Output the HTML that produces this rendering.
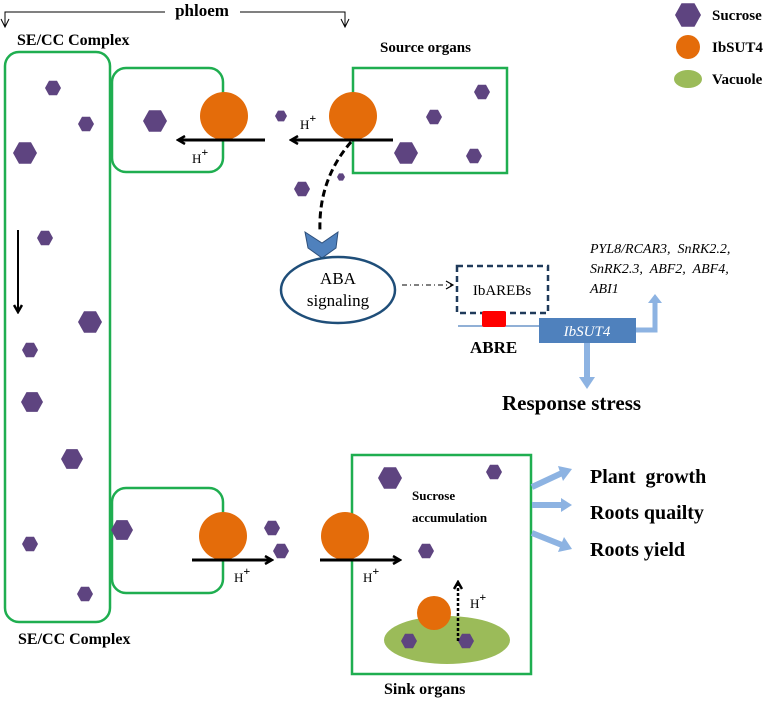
<!DOCTYPE html>
<html><head><meta charset="utf-8"><style>html,body{margin:0;padding:0;background:#fff}svg{display:block}</style></head>
<body>
<svg width="778" height="703" viewBox="0 0 778 703" xmlns="http://www.w3.org/2000/svg" font-family="Liberation Serif, serif">
<defs>
<polygon id="h" points="1,0 0.5,0.9 -0.5,0.9 -1,0 -0.5,-0.9 0.5,-0.9" fill="#5e4480"/>
<marker id="ar" markerWidth="10" markerHeight="10" refX="8" refY="5" orient="auto" markerUnits="userSpaceOnUse"><path d="M1,1 L8,5 L1,9" fill="none" stroke="#000" stroke-width="2.5"/></marker>
<marker id="ars" markerWidth="10" markerHeight="10" refX="8" refY="5" orient="auto" markerUnits="userSpaceOnUse"><path d="M1,1 L8,5 L1,9" fill="none" stroke="#000" stroke-width="1.2"/></marker>
</defs>
<path d="M5,26 V12 H165 M240,12 H345 V26" fill="none" stroke="#000" stroke-width="1"/>
<path d="M1,19 L5,27 L9,19 M341,19 L345,27 L349,19" fill="none" stroke="#000" stroke-width="1"/>
<text x="202" y="16" font-size="17" font-weight="bold" text-anchor="middle">phloem</text>
<text x="17" y="45" font-size="16" font-weight="bold">SE/CC Complex</text>
<text x="380" y="52" font-size="15" font-weight="bold">Source organs</text>
<text x="18" y="644" font-size="16" font-weight="bold">SE/CC Complex</text>
<text x="384" y="694" font-size="16" font-weight="bold">Sink organs</text>
<g fill="none" stroke="#1fae50" stroke-width="2.5">
<rect x="5" y="52" width="105" height="570" rx="14"/>
<rect x="112" y="68" width="111" height="104" rx="14"/>
<rect x="353" y="68" width="154" height="105"/>
<rect x="112" y="488" width="111" height="105" rx="14"/>
<rect x="352" y="455" width="179" height="219"/>
</g>
<use href="#h" transform="translate(688,15) scale(13)"/>
<circle cx="688" cy="47" r="12" fill="#e46c0a"/>
<ellipse cx="688" cy="79" rx="14" ry="9" fill="#9bbb59"/>
<g font-size="15" font-weight="bold"><text x="712" y="20">Sucrose</text><text x="712" y="52">IbSUT4</text><text x="712" y="84">Vacuole</text></g>
<g>
<use href="#h" transform="translate(53,88) scale(8)"/>
<use href="#h" transform="translate(86,124) scale(8)"/>
<use href="#h" transform="translate(25,153) scale(12)"/>
<use href="#h" transform="translate(45,238) scale(8)"/>
<use href="#h" transform="translate(90,322) scale(12)"/>
<use href="#h" transform="translate(30,350) scale(8)"/>
<use href="#h" transform="translate(32,402) scale(11)"/>
<use href="#h" transform="translate(72,459) scale(11)"/>
<use href="#h" transform="translate(30,544) scale(8)"/>
<use href="#h" transform="translate(85,594) scale(8)"/>
<use href="#h" transform="translate(155,121) scale(12)"/>
<use href="#h" transform="translate(281,116) scale(6)"/>
<use href="#h" transform="translate(482,92) scale(8)"/>
<use href="#h" transform="translate(434,117) scale(8)"/>
<use href="#h" transform="translate(406,153) scale(12)"/>
<use href="#h" transform="translate(474,156) scale(8)"/>
<use href="#h" transform="translate(302,189) scale(8)"/>
<use href="#h" transform="translate(341,177) scale(4)"/>
<use href="#h" transform="translate(122,530) scale(11)"/>
<use href="#h" transform="translate(272,528) scale(8)"/>
<use href="#h" transform="translate(281,551) scale(8)"/>
<use href="#h" transform="translate(390,478) scale(12)"/>
<use href="#h" transform="translate(494,472) scale(8)"/>
<use href="#h" transform="translate(426,551) scale(8)"/>
</g>
<g fill="#e46c0a">
<circle cx="224" cy="116" r="24"/><circle cx="353" cy="116" r="24"/>
<circle cx="223" cy="536" r="24"/><circle cx="345" cy="536" r="24"/>
</g>
<ellipse cx="447" cy="640" rx="63" ry="24" fill="#9bbb59"/>
<circle cx="434" cy="613" r="17" fill="#e46c0a"/>
<use href="#h" transform="translate(409,641) scale(8)"/>
<use href="#h" transform="translate(466,641) scale(8)"/>
<g stroke="#000" stroke-width="3" fill="none" marker-end="url(#ar)">
<line x1="265" y1="140" x2="178" y2="140"/>
<line x1="393" y1="140" x2="291" y2="140"/>
<line x1="192" y1="560" x2="272" y2="560"/>
<line x1="320" y1="560" x2="400" y2="560"/>
</g>
<line x1="18" y1="230" x2="18" y2="312" stroke="#000" stroke-width="2" marker-end="url(#ar)"/>
<line x1="458" y1="641" x2="458" y2="582" stroke="#000" stroke-width="2.5" stroke-dasharray="3,2" marker-end="url(#ar)"/>
<g font-size="13"><text x="192" y="163">H<tspan dy="-7" font-size="12" font-weight="bold">+</tspan></text>
<text x="300" y="129">H<tspan dy="-7" font-size="12" font-weight="bold">+</tspan></text>
<text x="234" y="582">H<tspan dy="-7" font-size="12" font-weight="bold">+</tspan></text>
<text x="363" y="582">H<tspan dy="-7" font-size="12" font-weight="bold">+</tspan></text>
<text x="470" y="608">H<tspan dy="-7" font-size="12" font-weight="bold">+</tspan></text></g>
<text x="412" y="500" font-size="13" font-weight="bold">Sucrose</text>
<text x="412" y="522" font-size="13" font-weight="bold">accumulation</text>
<path d="M351,142 Q318,180 320,232" fill="none" stroke="#000" stroke-width="3" stroke-dasharray="7,4"/>
<path d="M305,232 L322,243 L338,232 L336,248 L322,258 L308,248 Z" fill="#4f81bd" stroke="#2e4f7a" stroke-width="1"/>
<ellipse cx="338" cy="290" rx="57" ry="33" fill="none" stroke="#1f4e79" stroke-width="2.5"/>
<text x="338" y="284" font-size="17" text-anchor="middle">ABA</text>
<text x="338" y="306" font-size="17" text-anchor="middle">signaling</text>
<line x1="402" y1="285" x2="453" y2="285" stroke="#000" stroke-width="1" stroke-dasharray="5,3,1,3" marker-end="url(#ars)"/>
<rect x="457" y="266" width="91" height="47" fill="none" stroke="#1f3a5a" stroke-width="2.5" stroke-dasharray="6,4"/>
<text x="502" y="295" font-size="15" text-anchor="middle">IbAREBs</text>
<line x1="458" y1="326" x2="540" y2="326" stroke="#4f81bd" stroke-width="1.2"/>
<rect x="482" y="311" width="24" height="16" rx="2" fill="#f00"/>
<rect x="539" y="318" width="97" height="25" fill="#4f81bd"/>
<text x="587" y="336" font-size="15" font-style="italic" fill="#fff" text-anchor="middle">IbSUT4</text>
<text x="470" y="353" font-size="17" font-weight="bold">ABRE</text>
<path d="M636,330 H655 V302" fill="none" stroke="#8db3e2" stroke-width="5"/>
<path d="M648,303 L655,294 L662,303 Z" fill="#8db3e2"/>
<line x1="587" y1="343" x2="587" y2="378" stroke="#8db3e2" stroke-width="6"/>
<path d="M579,377 L587,389 L595,377 Z" fill="#8db3e2"/>
<text x="502" y="410" font-size="21" font-weight="bold">Response stress</text>
<g font-size="14" font-style="italic"><text x="590" y="253">PYL8/RCAR3,&#160; SnRK2.2,</text><text x="590" y="273">SnRK2.3,&#160; ABF2,&#160; ABF4,</text><text x="590" y="293">ABI1</text></g>
<g stroke="#8db3e2" stroke-width="6"><line x1="532" y1="487" x2="562" y2="473"/><line x1="532" y1="505" x2="562" y2="505"/><line x1="532" y1="533" x2="562" y2="545"/></g>
<g fill="#8db3e2"><path d="M558,466 L572,469 L563,481 Z"/><path d="M561,498 L572,505 L561,512 Z"/><path d="M564,537 L572,549 L558,552 Z"/></g>
<g font-size="20" font-weight="bold"><text x="590" y="483">Plant&#160; growth</text><text x="590" y="519">Roots quailty</text><text x="590" y="556">Roots yield</text></g>
</svg>
</body></html>
